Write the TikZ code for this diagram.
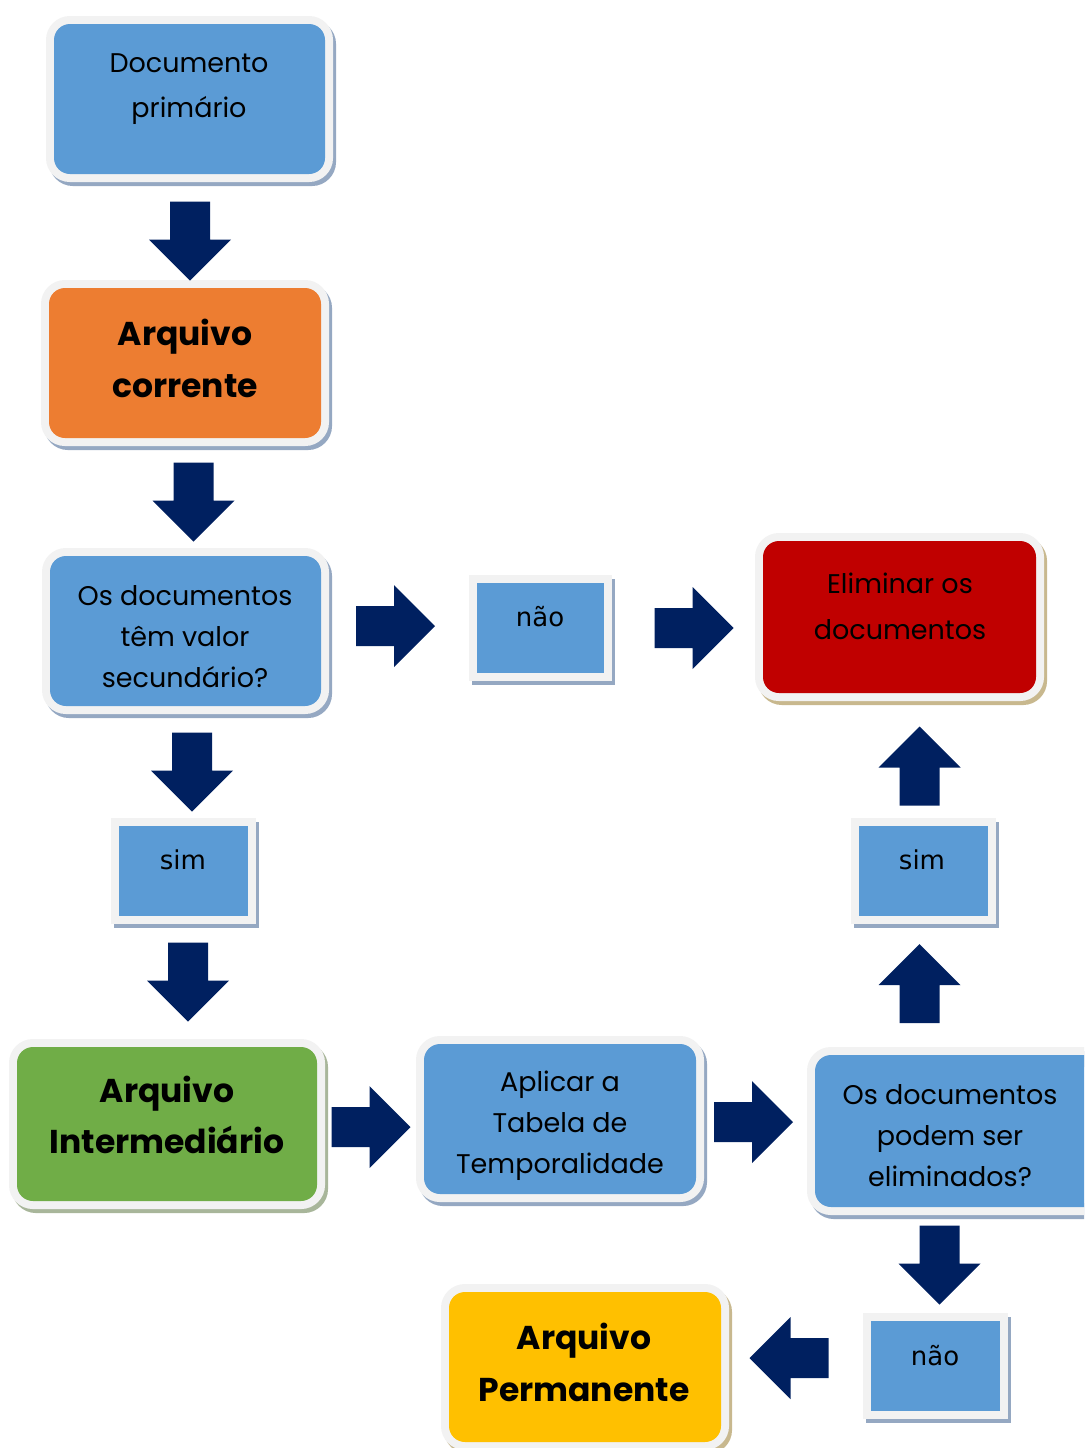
\documentclass[tikz,border=0pt]{standalone}
\usepackage{fontspec}
\setmainfont{Poppins}
\newfontfamily\tahomalike{DejaVu Sans}
\definecolor{cblue}{HTML}{5B9BD5}
\definecolor{corange}{HTML}{ED7D31}
\definecolor{cred}{HTML}{C00000}
\definecolor{cgreen}{HTML}{70AD47}
\definecolor{cyellow}{HTML}{FFC000}
\definecolor{cnavy}{HTML}{002060}
\definecolor{cframe}{HTML}{F2F2F2}
\definecolor{shblue}{HTML}{95A8C2}
\definecolor{shtan}{HTML}{C8B88E}
\definecolor{shgreen}{HTML}{A8B69A}
\tikzset{
  rbox/.style 2 args={rectangle, inner sep=0pt, outer sep=0pt, rounded corners=16pt, fill=#1,
    preaction={draw=#2, line width=16pt, transform canvas={shift={(3pt,-4pt)}}},
    preaction={draw=cframe, line width=16pt}},
  sbox/.style={rectangle, inner sep=0pt, outer sep=0pt, fill=cblue, line join=miter,
    minimum width=129pt, minimum height=90pt,
    preaction={draw=shblue, line width=16pt, transform canvas={shift={(3pt,-4pt)}}},
    preaction={draw=cframe, line width=16pt}},
  txt/.style={align=center, inner sep=0pt, font=\fontsize{27}{#1}\selectfont},
  btxt/.style={align=center, inner sep=0pt, font=\fontsize{33}{#1}\selectfont\bfseries},
  stxt/.style={inner sep=0pt, font=\tahomalike\fontsize{26}{30}\selectfont},
  barrow/.pic={\fill[cnavy] (-39.5,-20) -- (-1.5,-20) -- (-1.5,-41) -- (39.5,0) -- (-1.5,41) -- (-1.5,20) -- (-39.5,20) -- cycle;}
}
\begin{document}
\begin{tikzpicture}[x=1pt,y=-1pt]
\useasboundingbox (0,0) rectangle (1084,1448);
\clip (0,0) rectangle (1084,1448);
% boxes
\node[rbox={cblue}{shblue}, minimum width=271pt, minimum height=150pt] (b1) at (189.5,99) {};
\node[txt=45] (t1) at (189,89) {Documento\\primário};
\node[rbox={corange}{shblue}, minimum width=272pt, minimum height=150pt] (b2) at (185,363) {};
\node[btxt=52] (t2) at (185,358) {Arquivo\\corrente};
\node[rbox={cblue}{shblue}, minimum width=271pt, minimum height=150pt] (b3) at (185.5,631) {};
\node[txt=41] (t3) at (185,637) {Os documentos\\têm valor\\secundário?};
\node[sbox, minimum width=127pt] (n1) at (540.5,628) {};
\node[stxt] (tn1) at (540,617) {não};
\node[rbox={cred}{shtan}, minimum width=273pt, minimum height=152pt] (b4) at (899.5,617) {};
\node[txt=46] (t4) at (900,606) {Eliminar os\\documentos};
\node[sbox] (s1) at (183.5,870.5) {};
\node[stxt] (ts1) at (183,860) {sim};
\node[sbox] (s2) at (923.5,870.5) {};
\node[stxt] (ts2) at (922,860) {sim};
\node[rbox={cgreen}{shgreen}, minimum width=300pt, minimum height=154pt] (b5) at (167,1124) {};
\node[btxt=51] (t5) at (167,1115) {Arquivo\\Intermediário};
\node[rbox={cblue}{shblue}, minimum width=272pt, minimum height=150pt] (b6) at (560,1119) {};
\node[txt=41] (t6) at (560,1126) {Aplicar a\\Tabela de\\Temporalidade};
\node[rbox={cblue}{shblue}, minimum width=285pt, minimum height=152pt] (b7) at (957.5,1131) {};
\node[txt=41] (t7) at (950,1136) {Os documentos\\podem ser\\eliminados?};
\node[sbox] (n2) at (935.5,1366) {};
\node[stxt] (tn2) at (935,1356) {não};
\node[rbox={cyellow}{shtan}, minimum width=272pt, minimum height=150pt] (b8) at (585,1367) {};
\node[btxt=52] (t8) at (584,1362) {Arquivo\\Permanente};
% block arrows
\pic[rotate=-90] at (190,241) {barrow};
\pic[rotate=-90] at (193.5,502) {barrow};
\pic at (395.5,626) {barrow};
\pic at (694,628) {barrow};
\pic[rotate=-90] at (192,772) {barrow};
\pic[rotate=-90] at (188,982) {barrow};
\pic at (371,1127) {barrow};
\pic at (753.5,1122) {barrow};
\pic[rotate=-90] at (939.5,1265) {barrow};
\pic[rotate=180] at (789,1358) {barrow};
\pic[rotate=90] at (919.5,983.5) {barrow};
\pic[rotate=90] at (919.5,766) {barrow};
\end{tikzpicture}
\end{document}
